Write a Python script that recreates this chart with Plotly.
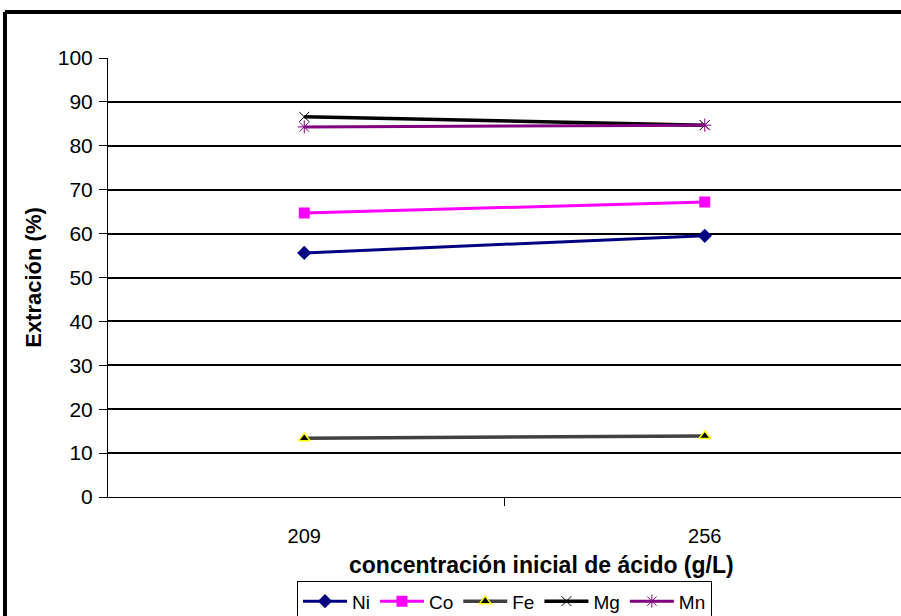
import plotly.graph_objects as go

# Initial acid concentration (g/L) and metal extraction (%)
concentracion = ["209", "256"]
ni = [55.6, 59.5]
co = [64.7, 67.2]
fe = [13.4, 13.9]
mg = [86.6, 84.7]
mn = [84.3, 84.7]
y_ticks = [0, 10, 20, 30, 40, 50, 60, 70, 80, 90, 100]

FONT = "Arial, Liberation Sans, sans-serif"

series = [
    ("Ni", ni, dict(color="#000080", width=3), dict(symbol="diamond", size=11, color="#000080")),
    ("Co", co, dict(color="#FF00FF", width=3), dict(symbol="square", size=11, color="#FF00FF")),
    ("Fe", fe, dict(color="#404040", width=3.5),
     dict(symbol="triangle-up", size=10, color="#000000", line=dict(color="#FFFF00", width=1.5))),
    ("Mg", mg, dict(color="#000000", width=3.5),
     dict(symbol="x-thin", size=10, color="#000000", line=dict(color="#000000", width=1))),
    ("Mn", mn, dict(color="#800080", width=3),
     dict(symbol="asterisk", size=11, color="#800080", line=dict(color="#800080", width=1))),
]

fig = go.Figure()
for name, vals, line, marker in series:
    fig.add_trace(go.Scatter(
        x=concentracion, y=vals, name=name, mode="lines+markers",
        line=line, marker=marker, cliponaxis=False,
    ))

# Outer chart frame (top and left edges)
frame = [
    dict(type="line", xref="paper", yref="paper", x0=-0.1299, x1=1.02, y0=1.1048, y1=1.1048,
         line=dict(color="black", width=4)),
    dict(type="line", xref="paper", yref="paper", x0=-0.1299, x1=-0.1299, y0=1.1048, y1=-0.3,
         line=dict(color="black", width=4)),
]

# X-axis title, centred on the chart area rather than the plot area
x_title = dict(
    text="<b>concentración inicial de ácido (g/L)</b>",
    xref="paper", yref="paper", x=0.547, y=-0.155,
    xanchor="center", yanchor="middle", showarrow=False,
    font=dict(family=FONT, size=23, color="black"),
)

fig.update_layout(
    width=901, height=616,
    margin=dict(l=108, r=0, t=58, b=119, autoexpand=False),
    paper_bgcolor="white", plot_bgcolor="white",
    font=dict(family=FONT, size=20, color="black"),
    showlegend=True,
    legend=dict(
        orientation="h", x=0.5, xanchor="center", y=-0.192, yanchor="top",
        bordercolor="black", borderwidth=1, bgcolor="white",
        font=dict(family=FONT, size=19), itemwidth=44, tracegroupgap=0,
    ),
    shapes=frame,
    annotations=[x_title],
    xaxis=dict(
        type="category", range=[-0.49, 1.49], automargin=False,
        showgrid=False, showline=True, linecolor="black", linewidth=1,
        ticks="outside", tickson="boundaries", ticklen=8, tickcolor="black",
        ticklabelstandoff=21,
        tickfont=dict(family=FONT, size=20),
        zeroline=False,
    ),
    yaxis=dict(
        range=[0, 100], tickvals=y_ticks, automargin=False,
        showgrid=True, gridcolor="black", gridwidth=1.5,
        showline=True, linecolor="black", linewidth=1,
        ticks="outside", ticklen=8, tickcolor="black",
        ticklabelstandoff=2,
        tickfont=dict(family=FONT, size=21),
        title=dict(text="<b>Extración (%)</b>", font=dict(family=FONT, size=22), standoff=10),
        zeroline=False,
    ),
)

fig.write_html("out.html")
